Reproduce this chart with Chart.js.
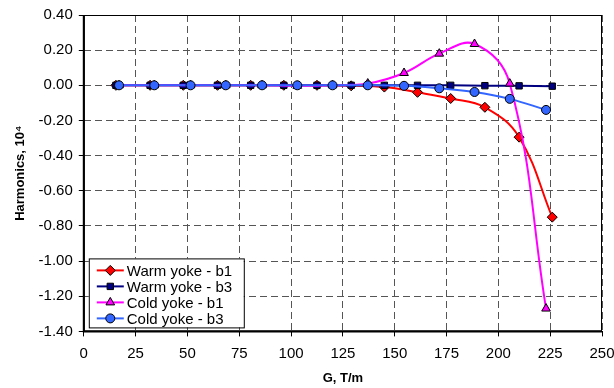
<!DOCTYPE html>
<html>
<head>
<meta charset="utf-8">
<script src="https://cdn.jsdelivr.net/npm/chart.js@4/dist/chart.umd.min.js"></script>
<style>
  html, body { margin: 0; padding: 0; background: #fff; }
  #wrap { width: 614px; height: 388px; }
</style>
</head>
<body>
<div id="wrap"><canvas id="harmonics"></canvas></div>
<script>
  const seriesNames = ["Warm yoke - b1", "Warm yoke - b3", "Cold yoke - b1", "Cold yoke - b3"];

  const warmG = [15.5, 32, 48, 64.5, 80.5, 96.5, 112.5, 129, 145, 161, 177, 193.5, 210, 226];
  const warmB1 = [0, 0, 0, 0, 0, 0, 0, -0.003, -0.01, -0.04, -0.075, -0.125, -0.295, -0.75];
  const warmB3 = [0, 0, 0, 0, 0, 0, 0, 0, 0, 0, 0, -0.002, -0.003, -0.005];

  const coldG = [17, 34, 51.5, 68.5, 86, 103, 120, 137, 154.5, 171.5, 188.5, 205.5, 223];
  const coldB1 = [0, 0, 0, 0, 0, -0.003, 0, 0.01, 0.07, 0.18, 0.235, 0.01, -1.27];
  const coldB3 = [0, 0, 0, 0, 0, 0, 0, 0, -0.003, -0.017, -0.038, -0.077, -0.14];

  const FONT = "'Liberation Sans', Arial, sans-serif";

  function pts(xs, ys) {
    return xs.map((x, i) => ({ x: x, y: ys[i] }));
  }

  function series(label, xs, ys, color, style, radius, order) {
    return {
      label: label,
      data: pts(xs, ys),
      borderColor: color,
      backgroundColor: color,
      borderWidth: 2,
      pointStyle: style,
      pointRadius: radius,
      pointBackgroundColor: color,
      pointBorderColor: "#000",
      pointBorderWidth: 1,
      tension: 0.4,
      order: order,
    };
  }

  const datasets = [
    series(seriesNames[0], warmG, warmB1, "#FF0000", "rectRot", 5, 4),
    series(seriesNames[1], warmG, warmB3, "#000080", "rect", 4.5, 3),
    series(seriesNames[2], coldG, coldB1, "#FF00FF", "triangle", 5, 2),
    series(seriesNames[3], coldG, coldB3, "#3366FF", "circle", 4.5, 1),
  ];

  // frame round the plot (thicker left/bottom axes) plus the boxed legend
  const framePlugin = {
    id: "frame",
    afterDraw(chart) {
      const ctx = chart.ctx;
      const a = chart.chartArea;
      ctx.save();
      ctx.setLineDash([]);
      ctx.strokeStyle = "#000";
      ctx.lineWidth = 1;
      ctx.strokeRect(a.left + 0.5, a.top + 0.5, a.right - a.left - 1, a.bottom - a.top - 1);
      ctx.lineWidth = 2;
      ctx.beginPath();
      ctx.moveTo(a.left, a.top);
      ctx.lineTo(a.left, a.bottom);
      ctx.lineTo(a.right, a.bottom);
      ctx.stroke();

      const bx = a.left + 5, bw = 155, bh = 69;
      const by = a.bottom - 4 - bh;
      ctx.lineWidth = 1;
      ctx.fillStyle = "#fff";
      ctx.fillRect(bx, by, bw, bh);
      ctx.strokeRect(bx + 0.5, by + 0.5, bw, bh);

      ctx.font = "15px " + FONT;
      ctx.textBaseline = "middle";
      chart.data.datasets.forEach((ds, i) => {
        const y = by + 12 + i * 16;
        ctx.strokeStyle = ds.borderColor;
        ctx.lineWidth = 2;
        ctx.beginPath();
        ctx.moveTo(bx + 8, y);
        ctx.lineTo(bx + 35, y);
        ctx.stroke();
        ctx.fillStyle = ds.pointBackgroundColor;
        ctx.strokeStyle = "#000";
        ctx.lineWidth = 1;
        Chart.helpers.drawPoint(ctx, { pointStyle: ds.pointStyle, radius: ds.pointRadius, rotation: 0, borderWidth: 1 }, bx + 21.5, y);
        ctx.fillStyle = "#000";
        ctx.fillText(ds.label, bx + 38, y + 1);
      });
      ctx.restore();
    },
  };

  const gridOpts = {
    color: "#555",
    tickLength: 5,
    tickColor: "#000",
    tickBorderDash: [],
  };

  new Chart(document.getElementById("harmonics"), {
    type: "line",
    data: { datasets: datasets },
    plugins: [framePlugin],
    options: {
      responsive: true,
      maintainAspectRatio: false,
      animation: false,
      layout: { padding: { top: 1, right: 0, left: 9, bottom: 0 } },
      plugins: {
        legend: { display: false },
        tooltip: { enabled: false },
      },
      scales: {
        x: {
          type: "linear",
          min: 0,
          max: 250,
          ticks: { stepSize: 25, color: "#000", font: { family: FONT, size: 15 }, padding: 8 },
          grid: gridOpts,
          border: { color: "#000", dash: [7, 4] },
          title: { display: true, text: "G, T/m", color: "#000", font: { family: FONT, size: 13, weight: "bold" }, padding: { top: 0, bottom: 2 } },
          afterFit: (scale) => { scale.paddingRight = 12; },
        },
        y: {
          type: "linear",
          min: -1.4,
          max: 0.4,
          ticks: {
            stepSize: 0.2,
            color: "#000",
            font: { family: FONT, size: 15 },
            padding: 6,
            callback: (v) => (Math.abs(v) < 1e-9 ? 0 : v).toFixed(2),
          },
          grid: gridOpts,
          border: { color: "#000", dash: [7, 4] },
          title: { display: true, text: "Harmonics, 10\u2074", color: "#000", font: { family: FONT, size: 13, weight: "bold" }, padding: { bottom: 4 } },
        },
      },
    },
  });
</script>
</body>
</html>
